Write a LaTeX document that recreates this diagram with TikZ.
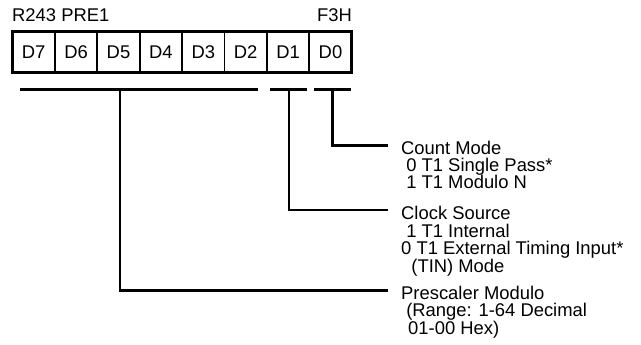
\documentclass[tikz,border=0pt]{standalone}
\usepackage{fontspec}
\setmainfont{Liberation Sans}
\usetikzlibrary{positioning}

\begin{document}
\begin{tikzpicture}[x=1pt, y=1pt,
  bit/.style={draw, line width=1.8pt, outer sep=0pt, inner sep=0pt, minimum width=42.4pt, minimum height=41.7pt, font=\fontsize{18.4}{17.5}\selectfont},
  lbl/.style={font=\fontsize{18.4}{17.5}\selectfont, inner sep=0pt, align=left},
  ln/.style={line width=2.6pt}
]
\useasboundingbox (0,0) rectangle (641,-345);

\node[bit, anchor=north west] (d7) at (12.5,-31.3) {D7};
\node[bit, right=0pt of d7] (d6) {D6};
\node[bit, right=0pt of d6] (d5) {D5};
\node[bit, right=0pt of d5] (d4) {D4};
\node[bit, right=0pt of d4] (d3) {D3};
\node[bit, right=0pt of d3] (d2) {D2};
\node[bit, right=0pt of d2] (d1) {D1};
\node[bit, right=0pt of d1] (d0) {D0};
\draw[line width=3pt] (d7.north west) rectangle (d0.south east);

\node[lbl, anchor=base west] (reg) at (12,-22) {R243 PRE1};
\node[lbl, anchor=base east] (addr) at (352,-22) {F3H};

% field brackets
\draw[ln] (20,-89.3) -- (258,-89.3);
\draw[ln] (270,-89.3) -- (307,-89.3);
\draw[ln] (314,-89.3) -- (350.7,-89.3);
\coordinate (prsTop) at (120,-89.3);
\coordinate (clkTop) at (289,-89.3);
\coordinate (cntTop) at (332.3,-89.3);

% base anchor = last line
\node[lbl, anchor=base west] (cnt) at (401,-189) {Count Mode\\\ 0 T1 Single Pass*\\\ 1 T1 Modulo N};
\node[lbl, anchor=base west] (clk) at (401,-272) {Clock Source\\\ 1 T1 Internal\\0 T1 External Timing Input*\\\ \ (TIN) Mode};
\node[lbl, anchor=base west] (prs) at (401,-334) {Prescaler Modulo\\\ (Range: 1-64 Decimal\\\hspace*{7pt}01-00 Hex)};

\coordinate (cntEnd) at (388,-145.3);
\coordinate (clkEnd) at (388,-210);
\coordinate (prsEnd) at (388,-290.7);
\draw[ln] (cntTop) |- (cntEnd);
\draw[ln] (clkTop) |- (clkEnd);
\draw[ln] (prsTop) |- (prsEnd);
\end{tikzpicture}
\end{document}
